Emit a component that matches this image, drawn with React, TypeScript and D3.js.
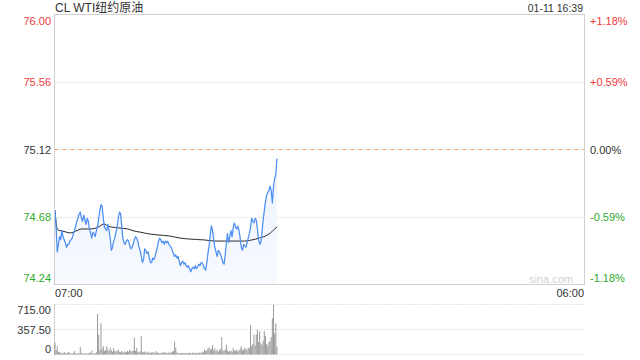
import React from 'react';
import * as d3 from 'd3';

const title = 'CL WTI纽约原油';
const stamp = '01-11 16:39';
const prevClose = 75.12;
const priceTicks = [76.0, 75.56, 75.12, 74.68, 74.24];
const pctTicks = ['+1.18%', '+0.59%', '0.00%', '-0.59%', '-1.18%'];
const timeLabels = ['07:00', '06:00'];
const sessionMinutes = 1380;
const stepMinutes = 3;
const volTicks = [715, 357.5, 0];
const volTickLabels = ['715.00', '357.50', '0'];

// price sampled every 3 minutes from 07:00
const prices = [
  74.72, 74.61, 74.45, 74.5, 74.55, 74.53, 74.59, 74.55, 74.53, 74.51,
  74.48, 74.5, 74.5, 74.52, 74.53, 74.54, 74.57, 74.59, 74.62, 74.65,
  74.67, 74.7, 74.71, 74.67, 74.65, 74.69, 74.66, 74.63, 74.67, 74.65,
  74.6, 74.57, 74.54, 74.58, 74.57, 74.55, 74.59, 74.62, 74.67, 74.72,
  74.76, 74.75, 74.67, 74.61, 74.6, 74.59, 74.63, 74.59, 74.54, 74.46,
  74.48, 74.52, 74.54, 74.58, 74.61, 74.67, 74.71, 74.7, 74.62, 74.54,
  74.51, 74.5, 74.52, 74.53, 74.52, 74.49, 74.47, 74.48, 74.5, 74.53,
  74.55, 74.54, 74.52, 74.48, 74.46, 74.42, 74.38, 74.4, 74.47, 74.46,
  74.44, 74.45, 74.41, 74.38, 74.38, 74.41, 74.4, 74.42, 74.45, 74.48,
  74.52, 74.54, 74.53, 74.51, 74.52, 74.5, 74.52, 74.51, 74.52, 74.5,
  74.49, 74.48, 74.46, 74.44, 74.42, 74.43, 74.41, 74.42, 74.39, 74.36,
  74.38, 74.39, 74.37, 74.38, 74.36, 74.35, 74.36, 74.34, 74.32, 74.34,
  74.35, 74.34, 74.36, 74.34, 74.35, 74.37, 74.36, 74.38, 74.38, 74.36,
  74.34, 74.33, 74.38, 74.44, 74.49, 74.56, 74.62, 74.59, 74.53, 74.48,
  74.45, 74.42, 74.46, 74.45, 74.43, 74.41, 74.38, 74.37, 74.43, 74.51,
  74.57, 74.51, 74.55, 74.59, 74.55, 74.61, 74.64, 74.61, 74.6, 74.62,
  74.59, 74.54, 74.48, 74.46, 74.5, 74.49, 74.48, 74.51, 74.54, 74.57,
  74.61, 74.67, 74.65, 74.64, 74.67, 74.66, 74.6, 74.53, 74.5, 74.51,
  74.58, 74.66, 74.72, 74.78, 74.82, 74.84, 74.85, 74.88, 74.85, 74.77,
  74.88, 74.93, 74.96, 75.06,
];

// average price line
const avgMinutes = [
  0, 5, 8, 18, 29, 39, 49, 60, 70, 91, 107, 117, 128, 138, 148, 169, 190, 206,
  221, 247, 268, 299, 325, 352, 391, 417, 443, 469, 495, 513, 534, 549, 562,
  573, 579,
];
const avgPrices = [
  74.724, 74.606, 74.593, 74.587, 74.58, 74.574, 74.58, 74.593, 74.6, 74.6,
  74.606, 74.619, 74.633, 74.619, 74.613, 74.606, 74.6, 74.587, 74.58, 74.567,
  74.561, 74.554, 74.541, 74.534, 74.528, 74.521, 74.521, 74.521, 74.521,
  74.528, 74.541, 74.554, 74.574, 74.6, 74.613,
];

// volume per 3-minute step
const volumes = [
  170, 60, 120, 40, 30, 25, 20, 15, 35, 20, 15, 25, 40, 20, 15, 10, 20, 48, 15, 10,
  20, 15, 105, 20, 15, 10, 15, 20, 10, 15, 25, 20, 57, 15, 10, 20, 30, 580, 280, 60,
  445, 80, 120, 50, 60, 120, 70, 50, 100, 60, 40, 90, 50, 40, 60, 70, 40, 30, 50, 40,
  30, 45, 35, 50, 40, 70, 50, 45, 60, 240, 50, 95, 40, 30, 45, 262, 40, 30, 45, 25,
  30, 40, 20, 30, 25, 35, 20, 30, 48, 20, 25, 15, 20, 30, 25, 40, 20, 15, 25, 30,
  20, 35, 40, 50, 183, 95, 30, 20, 25, 15, 20, 25, 15, 20, 25, 15, 20, 25, 15, 20,
  30, 15, 20, 25, 15, 30, 20, 25, 40, 30, 70, 50, 60, 90, 100, 70, 80, 134, 60, 90,
  50, 70, 40, 60, 80, 250, 60, 50, 70, 143, 60, 40, 50, 57, 40, 95, 60, 50, 70, 40,
  60, 80, 119, 60, 70, 95, 80, 60, 100, 90, 422, 120, 150, 286, 130, 286, 355, 180, 330, 160,
  140, 200, 334, 262, 150, 120, 180, 190, 250, 520, 710, 300, 446, 111,
];

const W = 640;
const H = 360;
const left = 54.5;
const right = 584.5;
const top = 14.5;
const bottom = 284.5;
const vTop = 304.5;
const vBottom = 354.5;

const RED = '#f03a3a';
const GREEN = '#2eaa2e';
const DARK = '#333';
const FONT = '"Liberation Sans", Arial, "Noto Sans CJK SC", sans-serif';

export default function App() {
  const x = d3.scaleLinear().domain([0, sessionMinutes]).range([55, 584]);
  const y = d3.scaleLinear().domain([74.24, 76.0]).range([284, 15]);
  const yv = d3.scaleLinear().domain([0, 715]).range([vBottom, vTop]);

  const pts = prices.map((p, i) => [i * stepMinutes, p] as [number, number]);
  const line = d3
    .line<[number, number]>()
    .x((d) => x(d[0]))
    .y((d) => y(d[1]));
  const area = d3
    .area<[number, number]>()
    .x((d) => x(d[0]))
    .y0(284)
    .y1((d) => y(d[1]));
  const avgPts = avgMinutes.map((m, i) => [m, avgPrices[i]] as [number, number]);
  const avgLine = d3
    .line<[number, number]>()
    .x((d) => x(d[0]))
    .y((d) => y(d[1]))
    .curve(d3.curveMonotoneX);

  const labelColor = (v: number) => (v > prevClose ? RED : v < prevClose ? GREEN : DARK);
  const labelBaseline = (i: number, n: number, gy: number) =>
    i === 0 ? gy + 9.5 : i === n - 1 ? gy - 2 : gy + 4;

  return (
    <svg
      width={W}
      height={H}
      style={{ position: 'absolute', left: 0, top: 0, display: 'block', background: '#fff' }}
      fontFamily={FONT}
    >
      <defs>
        <linearGradient id="fillGrad" gradientUnits="userSpaceOnUse" x1="0" y1="150" x2="0" y2="284">
          <stop offset="0" stopColor="#edf3fd" stopOpacity="1" />
          <stop offset="1" stopColor="#f7faff" stopOpacity="1" />
        </linearGradient>
      </defs>

      {/* title + stamp */}
      <text x={55} y={12} fontSize={12} fill={DARK}>
        {title}
      </text>
      <text x={583} y={12} fontSize={10.5} fill={DARK} textAnchor="end">
        {stamp}
      </text>

      {/* grid lines */}
      {priceTicks.slice(1, 4).map((t, i) => (
        <line
          key={'g' + i}
          x1={left}
          x2={right}
          y1={Math.round(y(t)) + 0.5}
          y2={Math.round(y(t)) + 0.5}
          stroke="#c8c8c8"
          strokeDasharray="1,2"
        />
      ))}
      <line
        x1={left}
        x2={right}
        y1={Math.round(y(prevClose)) + 0.5}
        y2={Math.round(y(prevClose)) + 0.5}
        stroke="#f6a46a"
        strokeDasharray="4,4"
      />

      {/* area + lines */}
      <path d={area(pts) || ''} fill="url(#fillGrad)" />
      <path d={avgLine(avgPts) || ''} fill="none" stroke="#2a2a2a" strokeWidth={1} />
      <path d={line(pts) || ''} fill="none" stroke="#4d8ff2" strokeWidth={1.25} strokeLinejoin="round" />

      {/* frame */}
      <rect x={left} y={top} width={right - left} height={bottom - top} fill="none" stroke="#cfcfcf" />

      {/* left price labels */}
      {priceTicks.map((t, i) => (
        <text
          key={'pl' + i}
          x={51}
          y={labelBaseline(i, priceTicks.length, y(t))}
          fontSize={11}
          textAnchor="end"
          fill={labelColor(t)}
        >
          {t.toFixed(2)}
        </text>
      ))}
      {/* right pct labels */}
      {pctTicks.map((t, i) => (
        <text
          key={'pr' + i}
          x={590}
          y={labelBaseline(i, pctTicks.length, y(priceTicks[i]))}
          fontSize={11}
          textAnchor="start"
          fill={labelColor(priceTicks[i])}
        >
          {t}
        </text>
      ))}

      {/* watermark */}
      <text x={573} y={283} fontSize={11} fill="#d2d2d2" textAnchor="end">
        sina.com
      </text>

      {/* time labels */}
      <text x={55} y={297} fontSize={11} fill={DARK}>
        {timeLabels[0]}
      </text>
      <text x={584} y={297} fontSize={11} fill={DARK} textAnchor="end">
        {timeLabels[1]}
      </text>

      {/* volume panel */}
      {volTicks.map((t, i) => (
        <line
          key={'vg' + i}
          x1={left}
          x2={right}
          y1={yv(t)}
          y2={yv(t)}
          stroke="#c8c8c8"
          strokeDasharray="1,2"
        />
      ))}
      <line x1={left} x2={left} y1={vTop - 1} y2={vBottom + 1} stroke="#cfcfcf" />
      {volumes.map((v, i) => (
        <rect
          key={'v' + i}
          x={x(i * stepMinutes) - 0.5}
          y={yv(v)}
          width={1}
          height={Math.max(0, vBottom - yv(v))}
          fill="#7a7a7a"
          fillOpacity={0.75}
        />
      ))}
      {volTickLabels.map((t, i) => (
        <text
          key={'vl' + i}
          x={51}
          y={i === 0 ? yv(volTicks[i]) + 9.5 : i === volTicks.length - 1 ? yv(volTicks[i]) - 1.5 : yv(volTicks[i]) + 4}
          fontSize={11}
          textAnchor="end"
          fill={DARK}
        >
          {t}
        </text>
      ))}
    </svg>
  );
}
